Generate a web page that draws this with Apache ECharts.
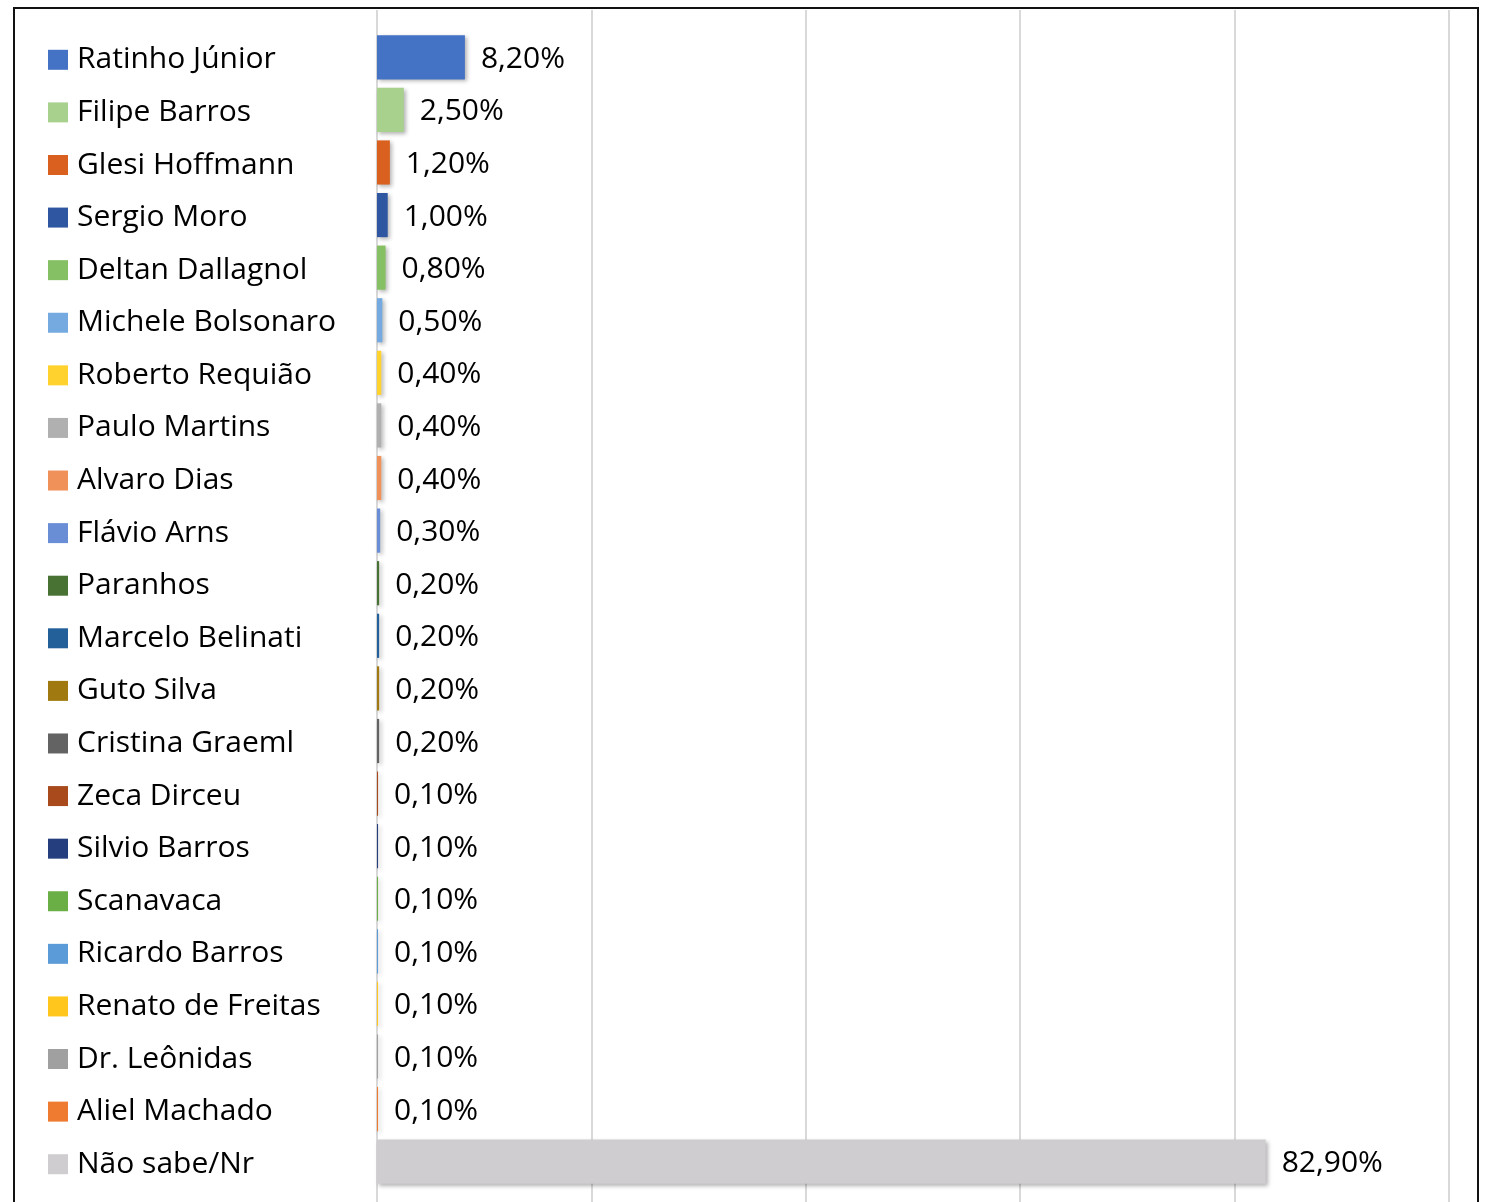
<!DOCTYPE html>
<html><head><meta charset="utf-8">
<script src="https://cdn.jsdelivr.net/npm/echarts@6/dist/echarts.min.js"></script>
<style>html,body{margin:0;padding:0;background:#fff}#c{width:1485px;height:1202px}</style>
</head><body><div id="c"></div>
<script>
const categories = ["Ratinho Júnior","Filipe Barros","Glesi Hoffmann","Sergio Moro","Deltan Dallagnol","Michele Bolsonaro","Roberto Requião","Paulo Martins","Alvaro Dias","Flávio Arns","Paranhos","Marcelo Belinati","Guto Silva","Cristina Graeml","Zeca Dirceu","Silvio Barros","Scanavaca","Ricardo Barros","Renato de Freitas","Dr. Leônidas","Aliel Machado","Não sabe/Nr"];
const values = [8.2,2.5,1.2,1.0,0.8,0.5,0.4,0.4,0.4,0.3,0.2,0.2,0.2,0.2,0.1,0.1,0.1,0.1,0.1,0.1,0.1,82.9];
const colors = ["#4472C4","#A9D18E","#D9601E","#2F56A0","#86C064","#74AADF","#FFD22E","#B0B0B0","#F0915A","#6A8ED6","#477234","#23609A","#A07A10","#636363","#A84A1C","#253F7E","#6AAE46","#5B9BD8","#FFC61E","#A0A0A0","#EE7B30","#CFCDCF"];
const xTicks = [0,20,40,60,80,100];

const FONT = '"Open Sans"';
const rich = {n:{fontFamily:FONT,fontSize:30,color:'#000',padding:[0,0,0,9]}};
colors.forEach((c,i)=>{rich['s'+i]={width:20,height:20,backgroundColor:c};});

const chart = echarts.init(document.getElementById('c'));
chart.setOption({
  animation:false,
  graphic:[{type:'rect',shape:{x:14,y:8,width:1464,height:1300},style:{fill:'none',stroke:'#111',lineWidth:2},z:100}],
  grid:[
    {left:377,right:36,top:31,bottom:14,containLabel:false},
    {left:377,right:36,top:10,bottom:0,containLabel:false}
  ],
  xAxis:[
    {gridIndex:0,type:'value',min:xTicks[0],max:xTicks[xTicks.length-1],interval:20,show:true,axisLine:{show:false},axisTick:{show:false},axisLabel:{show:false},splitLine:{show:false}},
    {gridIndex:1,type:'value',min:xTicks[0],max:xTicks[xTicks.length-1],interval:20,axisLine:{show:false},axisTick:{show:false},axisLabel:{show:false},splitLine:{show:true,lineStyle:{color:'#D9D9D9',width:2}}}
  ],
  yAxis:[
    {gridIndex:0,type:'category',data:categories,inverse:true,axisLine:{show:true,lineStyle:{color:'#D9D9D9',width:2}},axisTick:{show:false},
     axisLabel:{margin:329,align:'left',padding:[5,0,0,0],formatter:(v,i)=>'{s'+i+'|}{n|'+v+'}',rich:rich}},
    {gridIndex:1,type:'category',data:[''],show:false}
  ],
  series:[{
    type:'bar',xAxisIndex:0,yAxisIndex:0,barCategoryGap:'16%',
    data:values.map((v,i)=>({value:v,itemStyle:{color:colors[i]}})),
    itemStyle:{shadowBlur:4,shadowOffsetX:2,shadowOffsetY:2,shadowColor:'rgba(0,0,0,0.3)'},
    label:{show:true,position:'right',distance:16,offset:[0,2],fontFamily:FONT,fontSize:30,color:'#000',
      formatter:p=>p.value.toFixed(2).replace('.',',')+'%'}
  }]
});
</script></body></html>
